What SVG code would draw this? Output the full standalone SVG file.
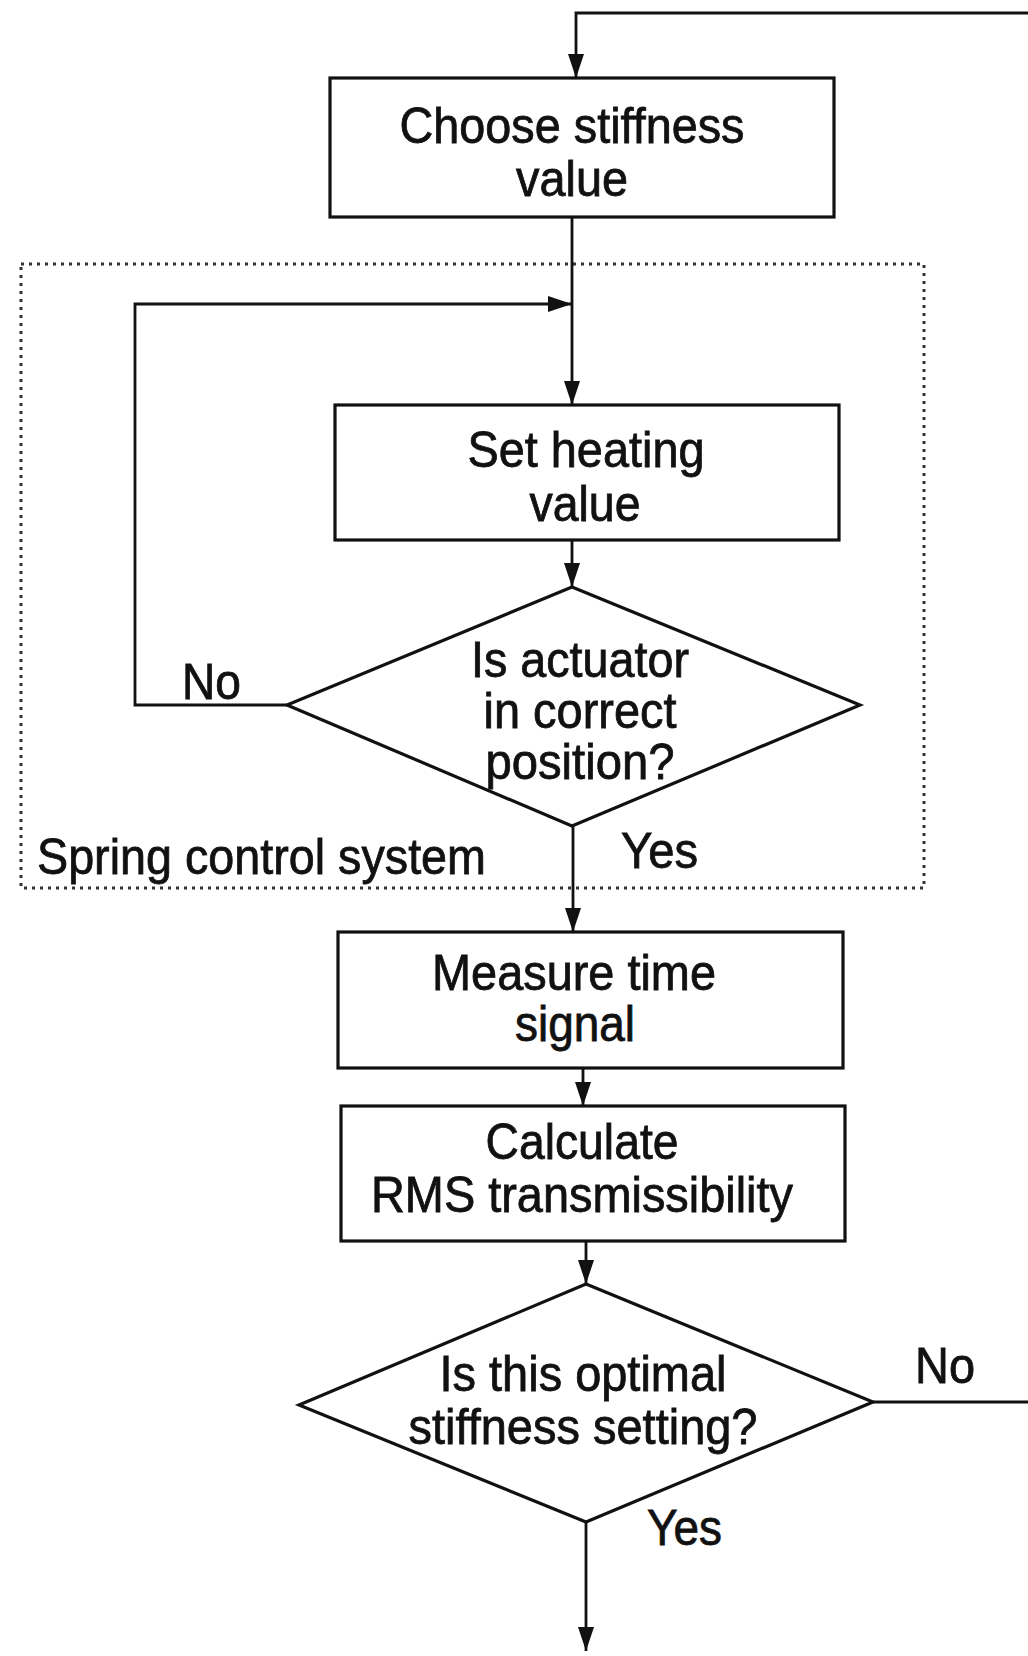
<svg xmlns="http://www.w3.org/2000/svg" width="1028" height="1656" viewBox="0 0 1028 1656">
<defs>
<marker id="ah" viewBox="0 0 24 16" refX="24" refY="8" markerWidth="24" markerHeight="16" markerUnits="userSpaceOnUse" orient="auto">
<path d="M0,0 L24,8 L0,16 Z" fill="#111"/>
</marker>
</defs>
<style>
.box{fill:#fff;stroke:#111;stroke-width:3.2}
.ln{fill:none;stroke:#111;stroke-width:2.8}
.t{font-family:"Liberation Sans",Arial,sans-serif;font-size:50px;fill:#111;stroke:#111;stroke-width:0.8;text-anchor:middle}
.l{font-family:"Liberation Sans",Arial,sans-serif;font-size:50px;fill:#111;stroke:#111;stroke-width:0.8}
.grp{fill:none;stroke:#333;stroke-width:3;stroke-dasharray:3 5}
</style>
<rect width="1028" height="1656" fill="#fff"/>
<g id="group-spring-control">
<rect class="grp" x="21" y="264" width="903" height="624"/>
<text class="l" x="37" y="874" textLength="449" lengthAdjust="spacingAndGlyphs">Spring control system</text>
</g>
<g id="connectors">
<path class="ln" d="M1028,13 H576 V78" marker-end="url(#ah)"/>
<path class="ln" d="M572,217 V405" marker-end="url(#ah)"/>
<path class="ln" d="M287,705 H135 V304 H572" marker-end="url(#ah)"/>
<path class="ln" d="M572,540 V587" marker-end="url(#ah)"/>
<path class="ln" d="M573,826 V932" marker-end="url(#ah)"/>
<path class="ln" d="M583,1068 V1106" marker-end="url(#ah)"/>
<path class="ln" d="M586,1241 V1284" marker-end="url(#ah)"/>
<path class="ln" d="M586,1522 V1651" marker-end="url(#ah)"/>
<path class="ln" d="M873,1402 H1028"/>
<text class="l" x="182" y="699" textLength="59" lengthAdjust="spacingAndGlyphs">No</text>
<text class="l" x="621" y="868" textLength="77" lengthAdjust="spacingAndGlyphs">Yes</text>
<text class="l" x="915" y="1383" textLength="60" lengthAdjust="spacingAndGlyphs">No</text>
<text class="l" x="647" y="1545" textLength="75" lengthAdjust="spacingAndGlyphs">Yes</text>
</g>
<g id="choose-stiffness">
<rect class="box" x="330" y="78" width="504" height="139"/>
<text class="t" x="572" y="143" textLength="345" lengthAdjust="spacingAndGlyphs">Choose stiffness</text>
<text class="t" x="572" y="196" textLength="112" lengthAdjust="spacingAndGlyphs">value</text>
</g>
<g id="set-heating">
<rect class="box" x="335" y="405" width="504" height="135"/>
<text class="t" x="586" y="467" textLength="237" lengthAdjust="spacingAndGlyphs">Set heating</text>
<text class="t" x="585" y="521" textLength="111" lengthAdjust="spacingAndGlyphs">value</text>
</g>
<g id="actuator-check">
<polygon class="box" points="572,587 860,705 572,826 287,705"/>
<text class="t" x="580" y="677" textLength="218" lengthAdjust="spacingAndGlyphs">Is actuator</text>
<text class="t" x="580" y="728" textLength="193" lengthAdjust="spacingAndGlyphs">in correct</text>
<text class="t" x="580" y="779" textLength="189" lengthAdjust="spacingAndGlyphs">position?</text>
</g>
<g id="measure-time">
<rect class="box" x="338" y="932" width="505" height="136"/>
<text class="t" x="574" y="990" textLength="284" lengthAdjust="spacingAndGlyphs">Measure time</text>
<text class="t" x="575" y="1041" textLength="120" lengthAdjust="spacingAndGlyphs">signal</text>
</g>
<g id="calculate-rms">
<rect class="box" x="341" y="1106" width="504" height="135"/>
<text class="t" x="582" y="1159" textLength="193" lengthAdjust="spacingAndGlyphs">Calculate</text>
<text class="t" x="582" y="1212" textLength="422" lengthAdjust="spacingAndGlyphs">RMS transmissibility</text>
</g>
<g id="optimal-check">
<polygon class="box" points="586,1284 873,1402 586,1522 299,1405"/>
<text class="t" x="583" y="1391" textLength="287" lengthAdjust="spacingAndGlyphs">Is this optimal</text>
<text class="t" x="583" y="1444" textLength="349" lengthAdjust="spacingAndGlyphs">stiffness setting?</text>
</g>
</svg>
